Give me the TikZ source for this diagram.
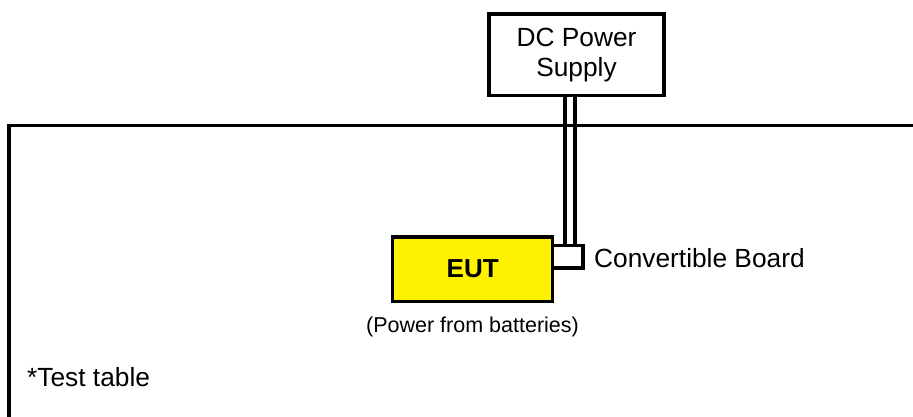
\documentclass[tikz,border=0pt]{standalone}
\usepackage{fontspec}
\setmainfont{Liberation Sans}
\usetikzlibrary{backgrounds}

\begin{document}
\begin{tikzpicture}[
    x=1pt,y=-1pt,
    box/.style={draw,line width=3.5pt,align=center,inner sep=0pt},
    txt/.style={inner sep=0pt,font=\fontsize{26.3}{31}\selectfont},
    cable/.style={draw=black,line width=4pt,double=white,double distance=6.7pt}
]
\useasboundingbox (0,0) rectangle (913,416);
\draw[line width=3.5pt] (9,440) |- (940,125.3);
\node[box,minimum width=175pt,minimum height=81.5pt,font=\fontsize{26.3}{31}\selectfont] (psu) at (576.5,54.75) {DC Power\\[-1pt]Supply};
\node[box,fill=yellow,minimum width=160pt,minimum height=64.3pt,font=\fontsize{26}{31}\selectfont\bfseries] (eut) at (472.7,269.15) {EUT};
\node[box,minimum width=30.3pt,minimum height=22.7pt] (board) at (567.85,256.65) {};
\coordinate (cab) at (570,0);
\begin{scope}[on background layer]
\draw[cable] (psu.south -| cab) -- (board.north -| cab);
\end{scope}
\node[txt,anchor=base west] (boardlbl) at (594,267) {Convertible Board};
\node[txt,anchor=base,font=\fontsize{21.5}{26}\selectfont] (batt) at (472.5,332) {(Power from batteries)};
\node[txt,anchor=base west] (table) at (27,386.7) {*Test table};
\end{tikzpicture}
\end{document}
